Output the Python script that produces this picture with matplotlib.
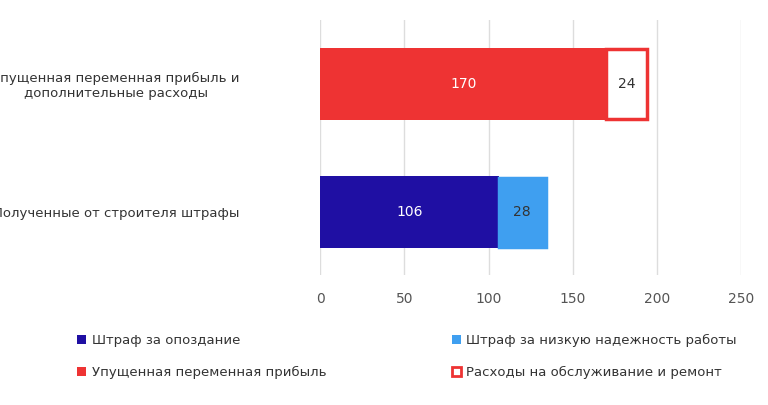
import matplotlib
matplotlib.use('Agg')
import matplotlib.pyplot as plt
from matplotlib.patches import Patch

categories = ['Полученные от строителя штрафы', 'Упущенная переменная прибыль и\nдополнительные расходы']
first_vals = [106, 170]
second_vals = [28, 24]
first_colors = ['#1f0fa3', '#ee3333']
second_colors = ['#3f9ff0', '#ffffff']
second_edges = ['#3f9ff0', '#ee3333']
xticks = [0, 50, 100, 150, 200, 250]

fig = plt.figure(figsize=(7.68, 4.05), dpi=100)
ax = fig.add_axes([0.417, 0.321, 0.548, 0.63])
y = [0, 1]
for i in y:
    ax.barh(i, first_vals[i], height=0.56, color=first_colors[i], zorder=2)
    ax.barh(i, second_vals[i], left=first_vals[i], height=0.54, color=second_colors[i],
            edgecolor=second_edges[i], linewidth=2.5, zorder=2)
    ax.text(first_vals[i] / 2, i, str(first_vals[i]), ha='center', va='center',
            color='white', fontsize=10, zorder=3)
    ax.text(first_vals[i] + second_vals[i] / 2, i, str(second_vals[i]), ha='center',
            va='center', color='#333333', fontsize=10, zorder=3)

ax.set_xlim(0, 250)
ax.set_ylim(-0.49, 1.5)
ax.set_xticks(xticks)
ax.set_yticks(y)
ax.set_yticklabels(categories, fontsize=9.5, color='#333333', multialignment='center')
ax.tick_params(axis='y', length=0, pad=58)
ax.tick_params(axis='x', length=0, pad=12, labelsize=10, colors='#555555')
ax.grid(axis='x', color='#dddddd', linewidth=1, zorder=0)
for s in ax.spines.values():
    s.set_visible(False)

handles = [Patch(facecolor='#1f0fa3'), Patch(facecolor='#3f9ff0'),
           Patch(facecolor='#ee3333'), Patch(facecolor='white', edgecolor='#ee3333', linewidth=2)]
labels = ['Штраф за опоздание', 'Штраф за низкую надежность работы',
          'Упущенная переменная прибыль', 'Расходы на обслуживание и ремонт']
fig.legend([handles[0], handles[2], handles[1], handles[3]],
           [labels[0], labels[2], labels[1], labels[3]],
           ncol=2, loc='lower left', bbox_to_anchor=(0.085, 0.035), frameon=False,
           fontsize=9.5, handlelength=0.7, handleheight=0.7, columnspacing=9.5,
           labelspacing=1.45, handletextpad=0.4, labelcolor='#333333')
fig.savefig('out.png', dpi=100)
